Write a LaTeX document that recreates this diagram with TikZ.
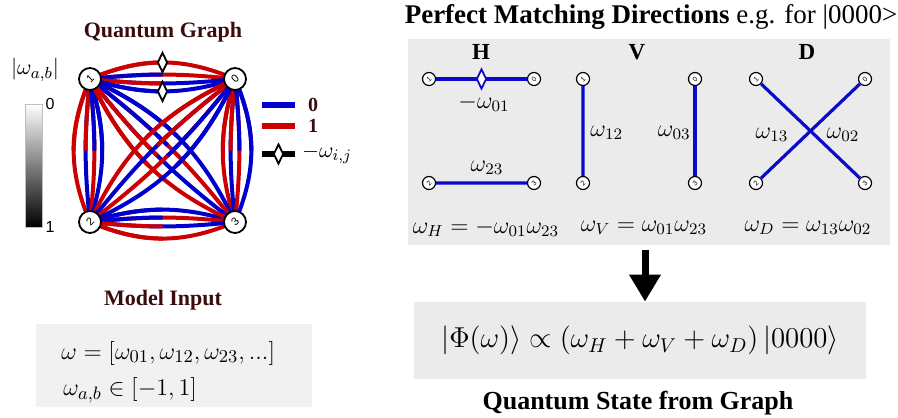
\documentclass[tikz,border=0pt]{standalone}
\usepackage[no-math]{fontspec}
\setmainfont{Liberation Serif}
\setsansfont{Liberation Sans}
\usepackage{amsmath}
\usetikzlibrary{shapes.geometric, arrows.meta, positioning, calc, backgrounds}
\definecolor{qblue}{RGB}{0,0,204}
\definecolor{qred}{RGB}{204,0,0}
\definecolor{pblue}{RGB}{10,10,200}
\definecolor{ttlred}{RGB}{60,12,12}
\definecolor{boxgray}{RGB}{235,235,235}
\definecolor{inpgray}{RGB}{241,241,241}

\begin{document}
\begin{tikzpicture}[x=0.5pt, y=-0.5pt,
    qnode/.style={circle, draw, line width=0.9pt, fill=white, minimum size=11pt,
                  inner sep=0pt, font=\sffamily\fontsize{5.5}{6}\selectfont, rotate=45},
    snode/.style={circle, draw, line width=0.6pt, fill=white, minimum size=6.5pt,
                  inner sep=0pt, font=\sffamily\fontsize{3.5}{4}\selectfont, rotate=45},
    qedge/.style={line width=2pt},
    pedge/.style={line width=1.6pt, draw=pblue},
    diam/.style={diamond, draw, line width=0.9pt, fill=white, inner sep=0pt,
                 minimum width=5pt, minimum height=10pt},
    ttl/.style={font=\bfseries\fontsize{11}{13}\selectfont, text=ttlred, inner sep=0pt},
    bigttl/.style={font=\fontsize{13.5}{15}\selectfont, inner sep=0pt},
    panel/.style={fill=boxgray, inner sep=0pt},
    plbl/.style={font=\fontsize{12}{14}\selectfont, inner sep=0pt},
    hvd/.style={font=\bfseries\fontsize{11.5}{13}\selectfont, inner sep=0pt},
    inmath/.style={font=\fontsize{12.8}{14}\selectfont, inner sep=0pt},
    legtxt/.style={font=\bfseries\fontsize{10}{12}\selectfont, text=ttlred, inner sep=0pt},
    cbar/.style={draw=gray!50, line width=0.3pt, top color=white, bottom color=black,
                 inner sep=0pt, minimum width=8.5pt, minimum height=61.5pt},
    cblbl/.style={font=\sffamily\fontsize{8}{9}\selectfont, inner sep=0pt},
    bigarrow/.style={-{Triangle[width=15pt,length=13.5pt]}, line width=3.5pt}]

\useasboundingbox (0,0) rectangle (898,417);

%% Quantum graph
\node[ttl] (qgttl) at (163,32) {Quantum Graph};
\foreach \n/\x/\y in {1/90/79, 0/235/79, 2/90/222, 3/235/222}
    \node[qnode] (q\n) at (\x,\y) {\n};

%% Multi-edges, colour near a / colour near b
\begin{scope}[on background layer]
\foreach \a/\b/\s/\ca/\cb in {
    1/0/23/qred/qred, 1/0/6/qblue/qred, 1/0/-6/qred/qblue, 1/0/-17/qblue/qblue,
    2/3/17/qblue/qblue, 2/3/6/qblue/qred, 2/3/-6/qred/qblue, 2/3/-23/qred/qred,
    1/2/-23/qred/qred, 1/2/-6/qred/qblue, 1/2/6/qblue/qred, 1/2/17/qblue/qblue,
    0/3/-17/qred/qred, 0/3/-6/qred/qblue, 0/3/6/qblue/qred, 0/3/23/qblue/qblue,
    1/3/20/qblue/qblue, 1/3/7/qblue/qred, 1/3/-7/qred/qblue, 1/3/-20/qred/qred,
    0/2/-20/qred/qred, 0/2/-7/qred/qblue, 0/2/7/qblue/qred, 0/2/20/qblue/qblue}{
    \draw[qedge, \cb] (q\a.center) to[bend left=\s] (q\b.center);
    \begin{scope}
        \clip ($(q\a.center)!0.5!(q\b.center)!2!90:(q\b.center)$)
           -- ($(q\a.center)!0.5!(q\b.center)!2!-90:(q\b.center)$)
           -- ($(q\a.center)!-1!(q\b.center)!2!-90:(q\b.center)$)
           -- ($(q\a.center)!-1!(q\b.center)!2!90:(q\b.center)$) -- cycle;
        \draw[qedge, \ca] (q\a.center) to[bend left=\s] (q\b.center);
    \end{scope}
}
\end{scope}

%% Sign flips on edge 0-1
\path (q1.center) to[bend left=23] node[diam] (qd1) {} (q0.center);
\path (q1.center) to[bend left=-17] node[diam] (qd2) {} (q0.center);

%% Colour bar
\node[cbar] (cb) at (33.5,165.5) {};
\node[cblbl, anchor=west] (cb0) at ([xshift=1.5pt]cb.north east) {0};
\node[cblbl, anchor=west] (cb1) at ([xshift=1.5pt]cb.south east) {1};
\node[font=\fontsize{11}{13}\selectfont, inner sep=0pt] (cbttl) at (35,70) {$|\omega_{a,b}|$};

%% Legend
\draw[line width=3pt, qblue] (262,105) -- (295,105) node[legtxt, right=5pt] (lg0) {0};
\draw[line width=3pt, qred] (262,126) -- (295,126) node[legtxt, right=5pt] (lg1) {1};
\draw[line width=3pt] (262,154) -- node[diam] (lgd) {} (295,154)
    node[right=2pt, font=\fontsize{11}{13}\selectfont, inner sep=0pt] (lgw) {$-\omega_{i,j}$};

%% Perfect matchings
\node[bigttl] (pmttl) at (651,17) {\textbf{Perfect Matching Directions} e.g. for |0000>};
\node[panel, minimum width=241pt, minimum height=103pt] (pmbox) at (649,142) {};
\foreach \p/\xl/\xr in {h/429/534, v/583/695, d/756/865}{
    \node[snode] (\p1) at (\xl,79) {1};
    \node[snode] (\p0) at (\xr,79) {0};
    \node[snode] (\p2) at (\xl,183) {2};
    \node[snode] (\p3) at (\xr,183) {3};
}
\node[hvd] (hh) at (481,52) {H};
\node[hvd] (hv) at (637,52) {V};
\node[hvd] (hd) at (807,52) {D};

\draw[pedge] (h1) -- node[diam] (hdm) {} (h0);
\draw[pedge] (h2) -- (h3);
\node[plbl] (l01) at (484,103) {$-\omega_{01}$};
\node[plbl] (l23) at (487,168) {$\omega_{23}$};

\draw[pedge] (v1) -- (v2);
\draw[pedge] (v0) -- (v3);
\node[plbl, anchor=west] (l12) at (590,133) {$\omega_{12}$};
\node[plbl, anchor=east] (l03) at (691,133) {$\omega_{03}$};

\draw[pedge] (d1) -- (d3);
\draw[pedge] (d0) -- (d2);
\node[plbl] (l13) at (772,135) {$\omega_{13}$};
\node[plbl] (l02) at (843,135) {$\omega_{02}$};

\node[plbl] (wh) at (486,228) {$\omega_H=-\omega_{01}\omega_{23}$};
\node[plbl] (wv) at (644,228) {$\omega_V=\omega_{01}\omega_{23}$};
\node[plbl] (wd) at (808,228) {$\omega_D=\omega_{13}\omega_{02}$};

%% Resulting state
\node[panel, minimum width=226pt, minimum height=38.5pt, font=\fontsize{14.3}{16}\selectfont]
    (stbox) at (640,340.5)
    {$|\Phi(\omega)\rangle\propto(\omega_H+\omega_V+\omega_D)\,|0000\rangle$};
\draw[bigarrow] ([xshift=-2pt, yshift=-2.5pt]pmbox.south) -- ([xshift=-2pt]pmbox.south |- stbox.north);
\node[bigttl, font=\bfseries\fontsize{13}{15}\selectfont] (qsttl) at (638,403) {Quantum State from Graph};

%% Model input
\node[ttl] (mittl) at (163,300) {Model Input};
\node[panel, fill=inpgray, minimum width=138pt, minimum height=41.5pt] (mibox) at (174,365.5) {};
\node[inmath, anchor=west] (mi1) at (61,353) {$\omega=[\omega_{01},\omega_{12},\omega_{23},...]$};
\node[inmath, anchor=west] (mi2) at (63,390) {$\omega_{a,b}\in[-1,1]$};

\end{tikzpicture}
\end{document}
